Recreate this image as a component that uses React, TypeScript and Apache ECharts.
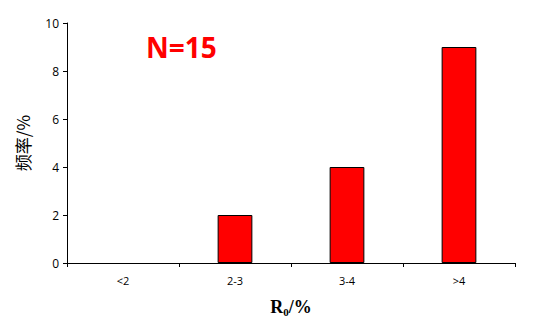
import React, { useEffect, useRef } from "react";
import * as echarts from "echarts";

const categories = ["<2", "2-3", "3-4", ">4"];
const frequency = [0, 2, 4, 9];
const yTicks = [0, 2, 4, 6, 8, 10];

export default function App() {
  const ref = useRef<HTMLDivElement>(null);
  useEffect(() => {
    if (!ref.current) return;
    const chart = echarts.init(ref.current, null, { renderer: "svg" });
    chart.setOption({
      animation: false,
      backgroundColor: "#ffffff",
      grid: { left: 67, right: 18, top: 23, bottom: 65, containLabel: false },
      xAxis: {
        type: "category",
        data: categories,
        axisLine: { lineStyle: { color: "#000", width: 1 } },
        axisTick: { show: true, alignWithLabel: false, length: 4, lineStyle: { color: "#000" } },
        axisLabel: { color: "#000", fontSize: 11, fontFamily: "Open Sans, sans-serif", margin: 12 },
        name: "{b|R}{s|0}{b|/%}",
        nameLocation: "middle",
        nameGap: 34,
        nameTextStyle: {
          rich: {
            b: { fontFamily: "Liberation Serif, serif", fontWeight: "bold", fontSize: 18, color: "#000" },
            s: { fontFamily: "Liberation Serif, serif", fontWeight: "bold", fontSize: 11, color: "#000", verticalAlign: "bottom", padding: [9, 0, 0, 0] },
          },
        },
      },
      yAxis: {
        type: "value",
        min: yTicks[0],
        max: yTicks[yTicks.length - 1],
        interval: 2,
        axisLine: { show: true, lineStyle: { color: "#000", width: 1 } },
        axisTick: { show: true, length: 4, lineStyle: { color: "#000" } },
        splitLine: { show: false },
        axisLabel: { color: "#000", fontSize: 12, fontFamily: "Open Sans, sans-serif", margin: 8 },
        name: "频率/%",
        nameLocation: "middle",
        nameGap: 36,
        nameRotate: 90,
        nameTextStyle: { color: "#000", fontSize: 17, fontFamily: "Noto Sans CJK SC, sans-serif" },
      },
      series: [
        {
          type: "bar",
          data: frequency.map((v) => ({
            value: v,
            itemStyle: v === 0 ? { borderWidth: 0, opacity: 0 } : undefined,
          })),
          barWidth: "31%",
          itemStyle: { color: "#FF0000", borderColor: "#000", borderWidth: 1 },
        },
      ],
      graphic: [
        {
          type: "text",
          left: 146,
          top: 33,
          style: {
            text: "N=15",
            fill: "#FF0000",
            font: "bold 28px 'Open Sans', sans-serif",
          },
        },
      ],
    });
    return () => chart.dispose();
  }, []);
  return <div ref={ref} style={{ width: 533, height: 328, position: "absolute", left: 0, top: 0 }} />;
}
